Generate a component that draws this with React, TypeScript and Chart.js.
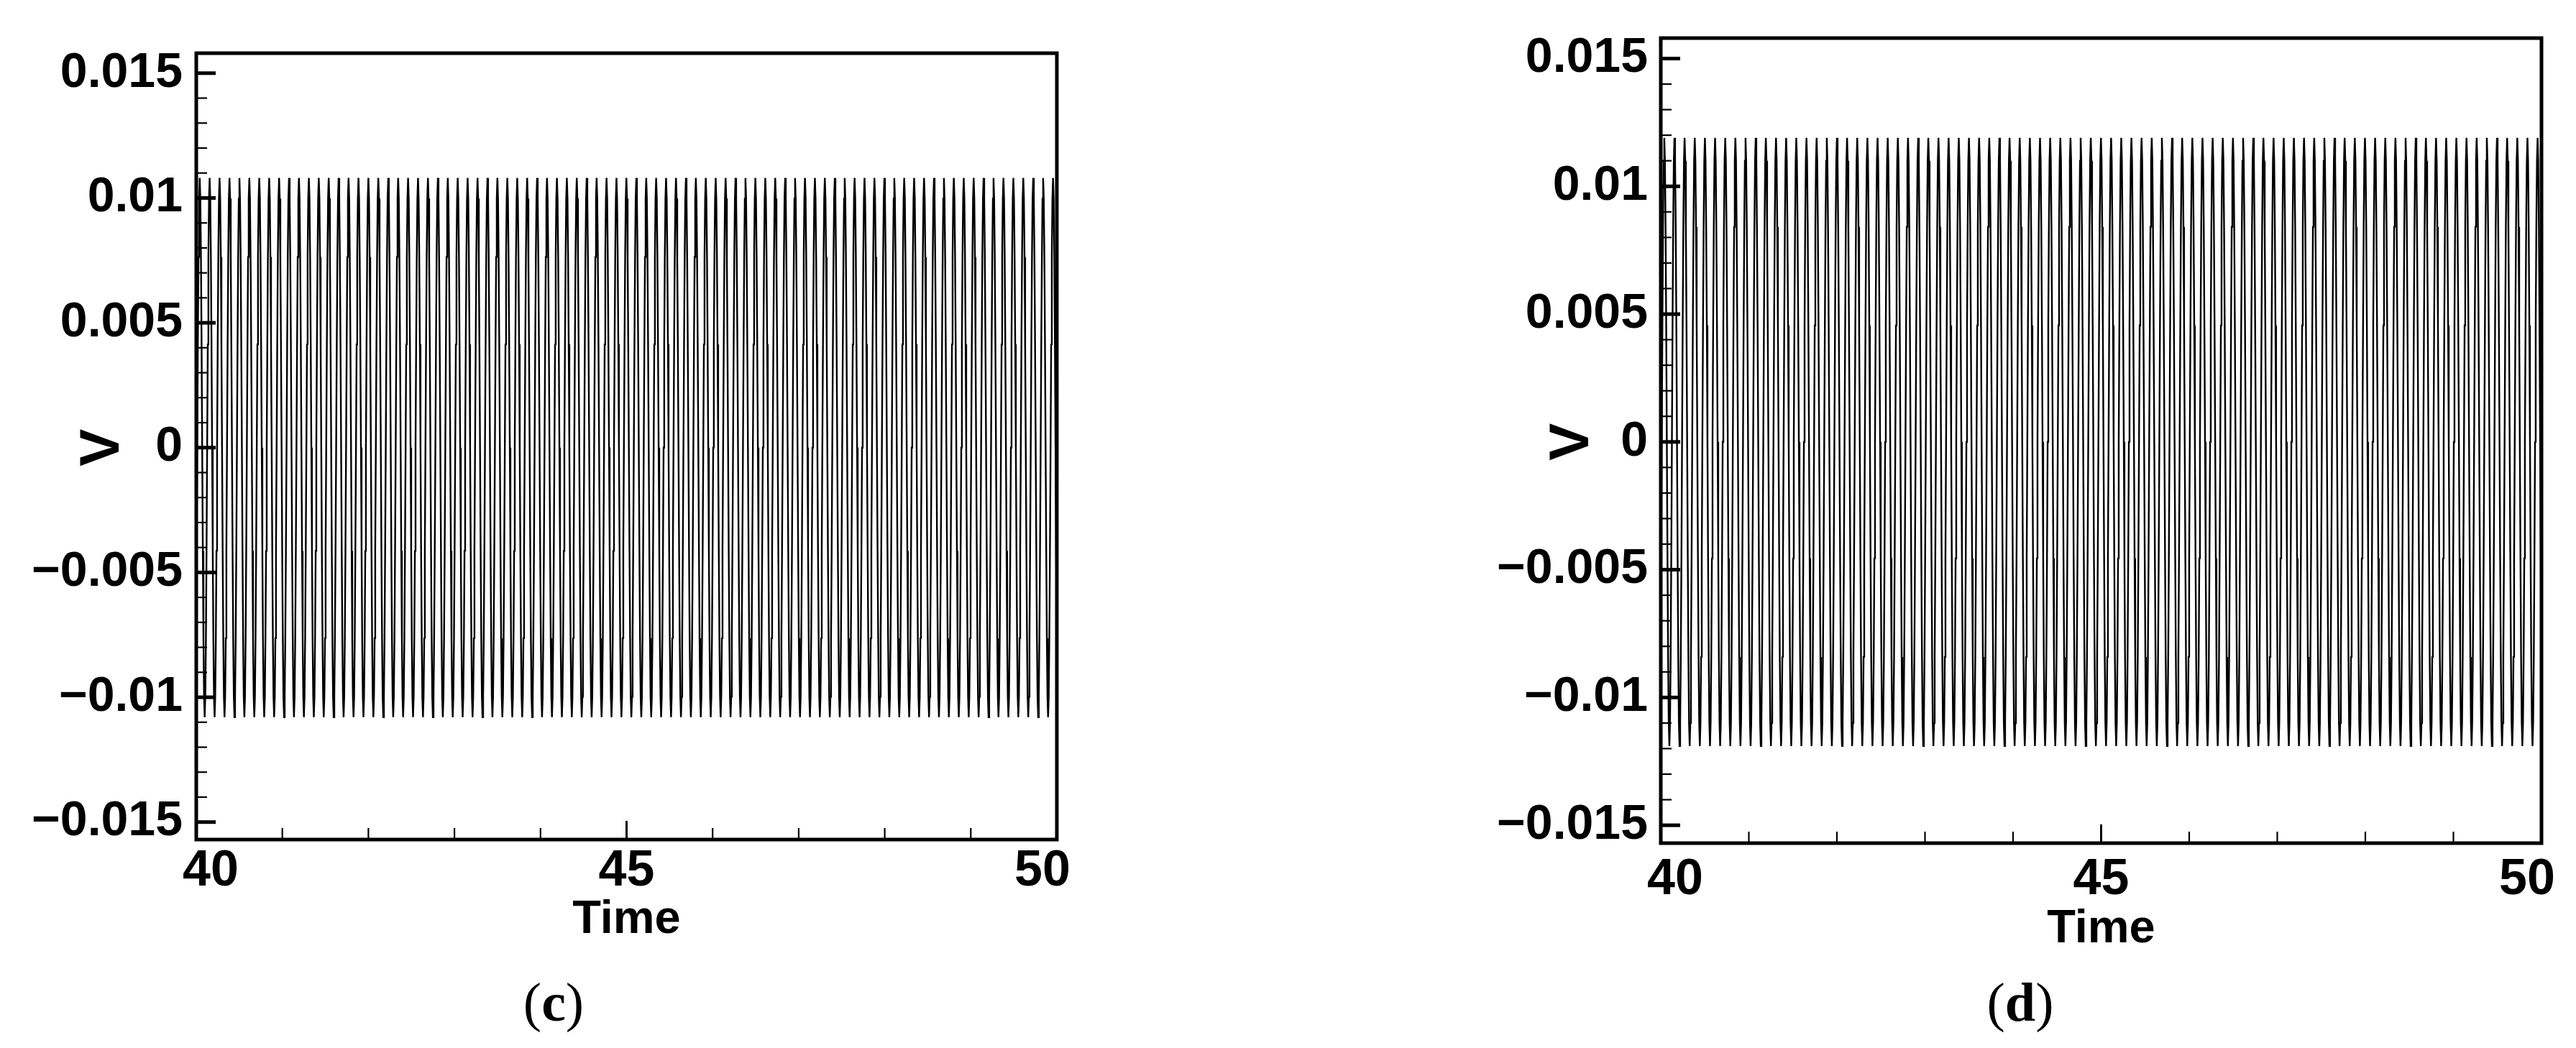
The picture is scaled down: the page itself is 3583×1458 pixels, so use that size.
import React, { useEffect, useRef } from "react";
import { Chart, registerables } from "chart.js";

Chart.register(...registerables);

// ---- axis ranges and ticks ----
const timeMin = 40;
const timeMax = 50;
const vMin = -0.0157;
const vMax = 0.0158;
const xMajorTicks = [40, 45, 50];
const xTickLabels = ["40", "45", "50"];
const xMinorTicks = [41, 42, 43, 44, 46, 47, 48, 49];
const yMajorTicks = [0.015, 0.01, 0.005, 0, -0.005, -0.01, -0.015];
const yTickLabels = ["0.015", "0.01", "0.005", "0", "\u22120.005", "\u22120.01", "\u22120.015"];
const yMinorTicks = [
  0.014, 0.013, 0.012, 0.011, 0.009, 0.008, 0.007, 0.006, 0.004, 0.003, 0.002, 0.001,
  -0.001, -0.002, -0.003, -0.004, -0.006, -0.007, -0.008, -0.009, -0.011, -0.012, -0.013, -0.014,
];
const xTitle = "Time";
const yTitle = "V";

// ---- signal ----
// first crest near t = 40.04, crest-to-crest spacing about 0.1153 (87 crests in 40..50)
const firstPeakTime = 40.04;
const oscillationPeriod = 0.1153;
// one cycle of the waveform (normalised), sampled 16 times per cycle
const cycleShape = [
  1, 0.924, 0.707, 0.383, 0, -0.383, -0.707, -0.924,
  -1, -0.924, -0.707, -0.383, 0, 0.383, 0.707, 0.924,
];
const amplitudeC = 0.0108;
const amplitudeD = 0.0119;

function buildSeries(amplitude: number) {
  const n = cycleShape.length;
  const dt = oscillationPeriod / n;
  const pts: { x: number; y: number }[] = [];
  let i = Math.floor(((timeMin - firstPeakTime) / oscillationPeriod) * n);
  while (true) {
    const t = firstPeakTime + i * dt;
    pts.push({ x: t, y: amplitude * cycleShape[((i % n) + n) % n] });
    if (t > timeMax) break;
    i++;
  }
  return pts;
}

type PanelCfg = {
  left: number;
  width: number;
  padding: { left: number; right: number; top: number; bottom: number };
  data: { x: number; y: number }[];
  yLabelGap: number;
  yTitleOffset: number;
  xLabelBaseline: number;
  xTitleBaseline: number;
  endShift: number;
};

const SANS = '"Liberation Sans", Arial, sans-serif';

function axesPlugin(cfg: PanelCfg) {
  return {
    id: "tecplotAxes",
    afterDraw(chart: any) {
      const { ctx, chartArea } = chart;
      const { left, right, top, bottom } = chartArea;
      const xs = chart.scales.x;
      const ys = chart.scales.y;
      ctx.save();
      ctx.strokeStyle = "#000";
      ctx.fillStyle = "#000";
      ctx.lineCap = "butt";

      // minor y ticks (inward)
      ctx.lineWidth = 2.2;
      for (const v of yMinorTicks) {
        const py = ys.getPixelForValue(v);
        ctx.beginPath();
        ctx.moveTo(left, py);
        ctx.lineTo(left + 15, py);
        ctx.stroke();
      }
      // major y ticks
      ctx.lineWidth = 5;
      for (const v of yMajorTicks) {
        const py = ys.getPixelForValue(v);
        ctx.beginPath();
        ctx.moveTo(left, py);
        ctx.lineTo(left + 27, py);
        ctx.stroke();
      }
      // minor x ticks
      ctx.lineWidth = 2.2;
      for (const v of xMinorTicks) {
        const px = xs.getPixelForValue(v);
        ctx.beginPath();
        ctx.moveTo(px, bottom);
        ctx.lineTo(px, bottom - 16);
        ctx.stroke();
      }
      // major x ticks
      ctx.lineWidth = 3;
      for (const v of xMajorTicks) {
        const px = xs.getPixelForValue(v);
        ctx.beginPath();
        ctx.moveTo(px, bottom);
        ctx.lineTo(px, bottom - 26);
        ctx.stroke();
      }

      // frame
      ctx.lineWidth = 5;
      ctx.strokeRect(left, top, right - left, bottom - top);

      // y tick labels
      ctx.font = `bold 68px ${SANS}`;
      ctx.textAlign = "right";
      ctx.textBaseline = "middle";
      yMajorTicks.forEach((v, k) => {
        ctx.fillText(yTickLabels[k], left - cfg.yLabelGap, ys.getPixelForValue(v));
      });

      // x tick labels
      ctx.font = `bold 70px ${SANS}`;
      ctx.textAlign = "center";
      ctx.textBaseline = "alphabetic";
      xMajorTicks.forEach((v, k) => {
        let px = xs.getPixelForValue(v);
        if (k === 0) px += cfg.endShift;
        if (k === xMajorTicks.length - 1) px -= cfg.endShift;
        ctx.fillText(xTickLabels[k], px, cfg.xLabelBaseline);
      });

      // x title
      ctx.font = `bold 65px ${SANS}`;
      ctx.fillText(xTitle, (left + right) / 2, cfg.xTitleBaseline);

      // y title (rotated)
      ctx.save();
      ctx.translate(left - cfg.yTitleOffset, ys.getPixelForValue(0));
      ctx.rotate(-Math.PI / 2);
      ctx.font = `bold 78px ${SANS}`;
      ctx.textAlign = "center";
      ctx.textBaseline = "middle";
      ctx.fillText(yTitle, 0, 0);
      ctx.restore();

      ctx.restore();
    },
  };
}

function Panel({ cfg }: { cfg: PanelCfg }) {
  const ref = useRef<HTMLCanvasElement>(null);
  useEffect(() => {
    const chart = new Chart(ref.current as HTMLCanvasElement, {
      type: "line",
      data: {
        datasets: [
          {
            data: cfg.data,
            borderColor: "#000",
            borderWidth: 2.4,
            pointRadius: 0,
            tension: 0,
            fill: false,
          },
        ],
      },
      options: {
        animation: false,
        responsive: false,
        maintainAspectRatio: false,
        devicePixelRatio: 1,
        events: [],
        layout: { padding: cfg.padding },
        scales: {
          x: { type: "linear", min: timeMin, max: timeMax, display: false },
          y: { type: "linear", min: vMin, max: vMax, display: false },
        },
        plugins: {
          legend: { display: false },
          tooltip: { enabled: false },
        },
      } as any,
      plugins: [axesPlugin(cfg)],
    });
    return () => chart.destroy();
  }, [cfg]);
  return (
    <canvas
      ref={ref}
      width={cfg.width}
      height={1458}
      style={{ position: "absolute", left: cfg.left, top: 0, width: cfg.width, height: 1458 }}
    />
  );
}

const panelC: PanelCfg = {
  left: 0,
  width: 1790,
  padding: { left: 273, right: 320, top: 74, bottom: 290 },
  data: buildSeries(amplitudeC),
  yLabelGap: 19,
  yTitleOffset: 130,
  xLabelBaseline: 1232,
  xTitleBaseline: 1298,
  endShift: 20,
};

const panelD: PanelCfg = {
  left: 1790,
  width: 1793,
  padding: { left: 520, right: 48, top: 53, bottom: 285 },
  data: buildSeries(amplitudeD),
  yLabelGap: 18,
  yTitleOffset: 123,
  xLabelBaseline: 1244,
  xTitleBaseline: 1311,
  endShift: 20,
};

const captionStyle: React.CSSProperties = {
  position: "absolute",
  top: 1356,
  fontFamily: '"Liberation Serif", "Times New Roman", serif',
  fontSize: 76,
  lineHeight: 1,
  transform: "translateX(-50%)",
  whiteSpace: "nowrap",
  color: "#000",
};

export default function App() {
  return (
    <div
      style={{
        position: "absolute",
        left: 0,
        top: 0,
        width: 3583,
        height: 1458,
        background: "#fff",
        overflow: "hidden",
      }}
    >
      <Panel cfg={panelC} />
      <Panel cfg={panelD} />
      <div style={{ ...captionStyle, left: 770 }}>
        (<b>c</b>)
      </div>
      <div style={{ ...captionStyle, left: 2810 }}>
        (<b>d</b>)
      </div>
    </div>
  );
}
